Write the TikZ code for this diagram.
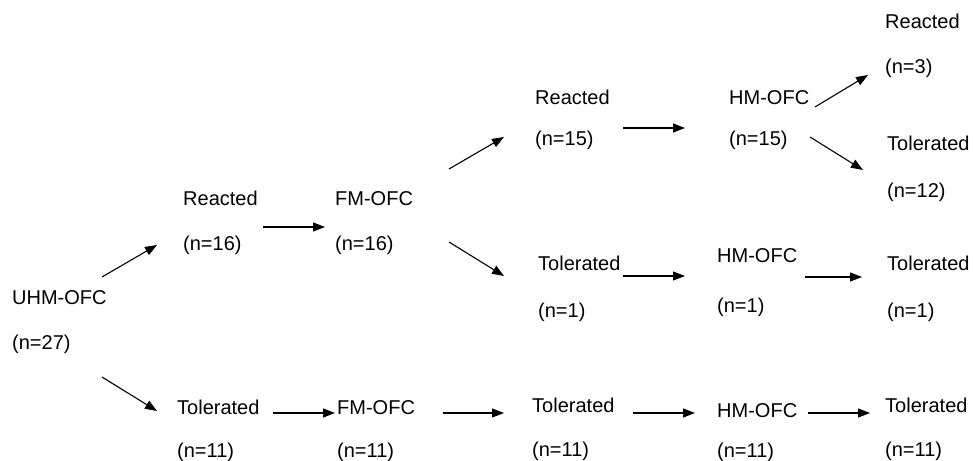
\documentclass[tikz,border=0pt]{standalone}
\usepackage{fontspec}
\setmainfont{Liberation Sans}
\usetikzlibrary{arrows.meta}
\begin{document}
\begin{tikzpicture}[x=1pt,y=-1pt,
  lbl/.style={anchor=base west, inner sep=0pt, font=\fontsize{20}{24}\selectfont},
  arr/.style={-{Triangle[length=12pt,width=9pt]}, line width=1.1pt}]
\useasboundingbox (0,0) rectangle (973,460);
% labels (x, baseline)
\node[lbl] (uhmA) at (12,304) {UHM-OFC};
\node[lbl] (uhmB) at (12,349) {(n=27)};
\node[lbl] (rA) at (183,205) {Reacted};
\node[lbl] (rB) at (183,250) {(n=16)};
\node[lbl] (fmA) at (335,205) {FM-OFC};
\node[lbl] (fmB) at (335,250) {(n=16)};
\node[lbl] (tA) at (177,414) {Tolerated};
\node[lbl] (tB) at (177,457) {(n=11)};
\node[lbl] (fmtA) at (337,414) {FM-OFC};
\node[lbl] (fmtB) at (337,457) {(n=11)};
\node[lbl] (rrA) at (535,104) {Reacted};
\node[lbl] (rrB) at (535,145) {(n=15)};
\node[lbl] (hmA) at (729,104) {HM-OFC};
\node[lbl] (hmB) at (729,145) {(n=15)};
\node[lbl] (r3A) at (885,29) {Reacted};
\node[lbl] (r3B) at (885,74) {(n=3)};
\node[lbl] (t12A) at (887,150) {Tolerated};
\node[lbl] (t12B) at (887,197) {(n=12)};
\node[lbl] (t1A) at (538,270) {Tolerated};
\node[lbl] (t1B) at (538,317) {(n=1)};
\node[lbl] (hm1A) at (717,262) {HM-OFC};
\node[lbl] (hm1B) at (717,312) {(n=1)};
\node[lbl] (t1cA) at (887,270) {Tolerated};
\node[lbl] (t1cB) at (887,317) {(n=1)};
\node[lbl] (t11A) at (532,412) {Tolerated};
\node[lbl] (t11B) at (532,456) {(n=11)};
\node[lbl] (hm11A) at (717,417) {HM-OFC};
\node[lbl] (hm11B) at (717,457) {(n=11)};
\node[lbl] (t11cA) at (885,412) {Tolerated};
\node[lbl] (t11cB) at (885,456) {(n=11)};
% connector end points
\coordinate (a1s) at (102,277); \coordinate (a1e) at (157,245);
\coordinate (a2s) at (102,377); \coordinate (a2e) at (157,411);
\coordinate (a3s) at (263,227); \coordinate (a3e) at (325,227);
\coordinate (a4s) at (273,413); \coordinate (a4e) at (335,413);
\coordinate (a5s) at (449,169); \coordinate (a5e) at (504,137);
\coordinate (a6s) at (449,242); \coordinate (a6e) at (504,276);
\coordinate (a7s) at (443,413); \coordinate (a7e) at (504,413);
\coordinate (a8s) at (623,128); \coordinate (a8e) at (685,128);
\coordinate (a9s) at (815,107); \coordinate (a9e) at (868,75);
\coordinate (a10s) at (810,137); \coordinate (a10e) at (863,170);
\coordinate (a11s) at (623,276); \coordinate (a11e) at (685,276);
\coordinate (a12s) at (805,277); \coordinate (a12e) at (862,277);
\coordinate (a13s) at (633,413); \coordinate (a13e) at (695,413);
\coordinate (a14s) at (808,413); \coordinate (a14e) at (870,413);
\foreach \i in {1,...,14} {\draw[arr] (a\i s) -- (a\i e);}
\end{tikzpicture}
\end{document}
